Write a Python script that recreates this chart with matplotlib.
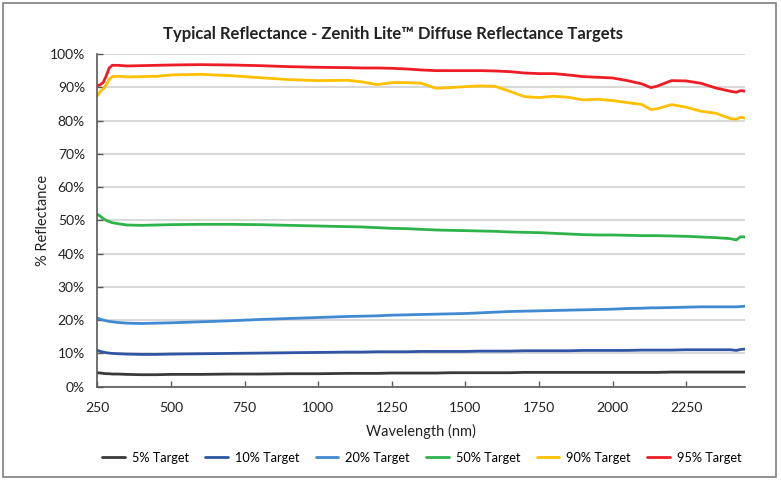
import matplotlib
matplotlib.use("Agg")
import matplotlib.pyplot as plt
from matplotlib.patches import Rectangle
from matplotlib.ticker import FuncFormatter, MultipleLocator

plt.rcParams['font.family'] = ['Lato', 'DejaVu Sans']

wavelength = [250, 260, 270, 280, 290, 300, 320, 350, 400, 450, 500, 600, 700, 800, 900,
              1000, 1100, 1150, 1200, 1250, 1300, 1350, 1400, 1450, 1500, 1550, 1600, 1650,
              1700, 1750, 1800, 1850, 1900, 1950, 2000, 2050, 2100, 2130, 2150, 2200, 2250,
              2300, 2350, 2400, 2420, 2435, 2450]

t95 = [90.5, 90.8, 91.5, 93.5, 95.8, 96.6, 96.6, 96.4, 96.5, 96.6, 96.7, 96.8, 96.7, 96.5, 96.2,
       96.0, 95.9, 95.8, 95.8, 95.7, 95.5, 95.2, 95.0, 95.0, 95.0, 95.0, 94.9, 94.7,
       94.3, 94.1, 94.1, 93.7, 93.2, 93.0, 92.8, 92.0, 91.0, 89.9, 90.3, 92.0, 91.9,
       91.2, 89.8, 88.8, 88.5, 89.0, 88.8]
t90 = [87.5, 88.8, 89.5, 90.8, 92.3, 93.2, 93.3, 93.1, 93.2, 93.3, 93.7, 93.9, 93.5, 92.9, 92.3,
       92.0, 92.1, 91.6, 90.8, 91.4, 91.4, 91.2, 89.7, 89.9, 90.2, 90.4, 90.3, 88.8,
       87.2, 86.9, 87.3, 87.0, 86.2, 86.4, 86.0, 85.4, 84.8, 83.3, 83.5, 84.8, 84.0,
       82.8, 82.2, 80.6, 80.4, 81.0, 80.7]
t50 = [51.8, 51.2, 50.5, 50.0, 49.6, 49.3, 49.0, 48.6, 48.5, 48.6, 48.7, 48.8, 48.8, 48.7, 48.5,
       48.3, 48.1, 48.0, 47.8, 47.6, 47.5, 47.3, 47.1, 47.0, 46.9, 46.8, 46.7, 46.5,
       46.4, 46.3, 46.1, 45.9, 45.7, 45.6, 45.6, 45.5, 45.4, 45.4, 45.4, 45.3, 45.2,
       45.0, 44.8, 44.5, 44.1, 45.1, 45.0]
t20 = [20.6, 20.3, 20.0, 19.8, 19.6, 19.5, 19.3, 19.1, 19.0, 19.1, 19.2, 19.5, 19.8, 20.2, 20.5,
       20.8, 21.1, 21.2, 21.3, 21.5, 21.6, 21.7, 21.8, 21.9, 22.0, 22.2, 22.4, 22.6,
       22.7, 22.8, 22.9, 23.0, 23.1, 23.2, 23.3, 23.5, 23.6, 23.7, 23.7, 23.8, 23.9,
       24.0, 24.0, 24.0, 24.0, 24.1, 24.2]
t10 = [10.9, 10.6, 10.4, 10.2, 10.1, 10.0, 9.9, 9.8, 9.7, 9.7, 9.8, 9.9, 10.0, 10.1, 10.2,
       10.3, 10.4, 10.4, 10.5, 10.5, 10.5, 10.6, 10.6, 10.6, 10.6, 10.7, 10.7, 10.7,
       10.8, 10.8, 10.8, 10.8, 10.9, 10.9, 10.9, 10.9, 11.0, 11.0, 11.0, 11.0, 11.1,
       11.1, 11.1, 11.1, 10.9, 11.2, 11.3]
t05 = [4.2, 4.1, 4.0, 3.9, 3.9, 3.8, 3.8, 3.7, 3.6, 3.6, 3.7, 3.7, 3.8, 3.8, 3.9,
       3.9, 4.0, 4.0, 4.0, 4.1, 4.1, 4.1, 4.1, 4.2, 4.2, 4.2, 4.2, 4.2,
       4.3, 4.3, 4.3, 4.3, 4.3, 4.3, 4.3, 4.3, 4.3, 4.3, 4.3, 4.4, 4.4,
       4.4, 4.4, 4.4, 4.4, 4.4, 4.4]

labels = ["5% Target", "10% Target", "20% Target", "50% Target", "90% Target", "95% Target"]
series = [t05, t10, t20, t50, t90, t95]
colors = ["#3a3a3a", "#2f55a4", "#3f8ad2", "#2db34a", "#ffc000", "#ee1c25"]
xticks = [250, 500, 750, 1000, 1250, 1500, 1750, 2000, 2250]

fig = plt.figure(figsize=(7.81, 4.80), dpi=100)
ax = fig.add_axes([0.1248, 0.1944, 0.954 - 0.1248, 0.8875 - 0.1944])

for y, lab, c in zip(series, labels, colors):
    ax.plot(wavelength, y, color=c, lw=2.0, label=lab, solid_capstyle='round')

ax.set_xlim(250, 2450)
ax.set_ylim(0, 100)
ax.set_xticks(xticks)
ax.yaxis.set_major_locator(MultipleLocator(10))
ax.yaxis.set_major_formatter(FuncFormatter(lambda v, p: f"{int(v)}%"))
ax.grid(axis='y', color='#d9d9d9', lw=1.5)
ax.set_axisbelow(True)
for s in ['top', 'right']:
    ax.spines[s].set_visible(False)
for s in ['left', 'bottom']:
    ax.spines[s].set_color('#595959')
    ax.spines[s].set_linewidth(1.2)
ax.tick_params(axis='both', direction='in', length=4, width=1, color='#595959',
               labelsize=10, labelcolor='#222222')
ax.tick_params(axis='x', pad=11)
ax.tick_params(axis='y', pad=9)
ax.set_xlabel("Wavelength (nm)", fontsize=10.5, color='#222222', labelpad=7)
ax.set_ylabel("% Reflectance", fontsize=10.5, color='#222222')
ax.yaxis.set_label_coords(-0.074, 0.5)

fig.text(0.503, 0.93, "Typical Reflectance - Zenith Lite\u2122 Diffuse Reflectance Targets",
         ha='center', va='center', fontsize=12, fontweight='bold', color='#222222')

fig.legend(loc='center', bbox_to_anchor=(0.54, 0.046), ncol=6, frameon=False,
           fontsize=9.2, handlelength=1.75, columnspacing=1.3, handletextpad=0.55)

fig.patches.append(Rectangle((3 / 781, 3 / 480), 773 / 781, 474 / 480, transform=fig.transFigure,
                             fill=False, edgecolor='#7f7f7f', lw=1.2))

fig.savefig("out.png", dpi=100)
